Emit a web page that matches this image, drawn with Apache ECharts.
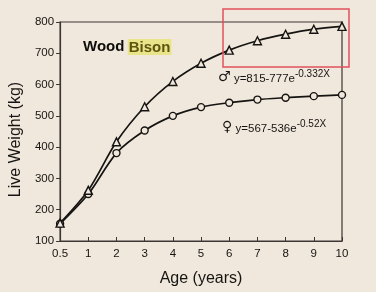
<!DOCTYPE html>
<html>
<head>
<meta charset="utf-8">
<script src="https://cdn.jsdelivr.net/npm/echarts@6/dist/echarts.min.js"></script>
<style>
  html, body { margin: 0; padding: 0; background: #f0e8dc; }
  #main { width: 376px; height: 292px; }
</style>
</head>
<body>
<div id="main"></div>
<script>
// 年龄（类目轴，等间距）
var ages = ['0.5', '1', '2', '3', '4', '5', '6', '7', '8', '9', '10'];
// 公牛 (三角)
var maleWeight = [157, 262, 417, 529, 610, 668, 710, 740, 761, 777, 786];
// 母牛 (圆圈)
var femaleWeight = [155, 250, 381, 453, 500, 528, 542, 552, 558, 563, 567];
var yTicks = { min: 100, max: 800, step: 100 };

var chartDom = document.getElementById('main');
var myChart = echarts.init(chartDom);
var font = 'Liberation Sans, Arial, sans-serif';
var ink = '#161412';
var paper = '#f0e8dc';

var option = {
  backgroundColor: paper,
  animation: false,
  grid: {
    left: 58,
    right: 34,
    top: 22,
    bottom: 46,
    show: true,
    borderColor: '#3a3633', // 边框
    borderWidth: 1.2
  },
  xAxis: {
    type: 'category',
    data: ages,
    boundaryGap: false, // 去除轴内间距
    name: 'Age (years)',
    nameLocation: 'middle',
    nameGap: 30,
    nameTextStyle: { color: ink, fontSize: 16, fontFamily: font },
    axisLine: { lineStyle: { color: '#3a3633', width: 1.2 } },
    axisTick: { inside: true, length: 4, lineStyle: { color: '#3a3633' } },
    axisLabel: { color: ink, fontSize: 11.5, fontFamily: font, margin: 7 },
    splitLine: { show: false }
  },
  yAxis: {
    type: 'value',
    min: yTicks.min,
    max: yTicks.max,
    interval: yTicks.step,
    name: 'Live Weight (kg)',
    nameLocation: 'middle',
    nameGap: 35,
    nameTextStyle: { color: ink, fontSize: 16, fontFamily: font, padding: [0, 16, 0, 0] },
    axisLine: { show: true, lineStyle: { color: '#3a3633', width: 1.2 } },
    axisTick: { show: true, length: 4, lineStyle: { color: '#3a3633' } },
    axisLabel: { color: ink, fontSize: 11.5, fontFamily: font, margin: 6 },
    splitLine: { show: false }
  },
  series: [
    {
      name: 'male',
      type: 'line',
      data: maleWeight,
      smooth: 0.3,
      symbol: 'triangle',
      symbolSize: 8,
      lineStyle: { color: ink, width: 1.7 },
      itemStyle: { color: paper, borderColor: ink, borderWidth: 1.4 },
      z: 3
    },
    {
      name: 'female',
      type: 'line',
      data: femaleWeight,
      smooth: 0.3,
      symbol: 'circle',
      symbolSize: 7,
      lineStyle: { color: ink, width: 1.7 },
      itemStyle: { color: paper, borderColor: ink, borderWidth: 1.4 },
      z: 2
    }
  ],
  graphic: [
    {
      type: 'text',
      left: 83,
      top: 39,
      style: {
        text: '{a|Wood} {b|Bison}',
        rich: {
          a: { fontSize: 15, fontWeight: 'bold', fill: '#0e0c0a', fontFamily: font },
          b: { fontSize: 15, fontWeight: 'bold', fill: '#5e5410', fontFamily: font,
               backgroundColor: '#e9e48a', padding: [1, 1, 0, 1] }
        }
      }
    },
    {
      type: 'text',
      left: 218,
      top: 69,
      style: {
        text: '{s|♂} {t|y=815-777e}{u|-0.332X}',
        rich: {
          s: { fontSize: 14, fill: ink, fontFamily: 'DejaVu Sans' },
          t: { fontSize: 11.5, fill: ink, fontFamily: font, verticalAlign: 'bottom' },
          u: { fontSize: 10, fill: ink, fontFamily: font, verticalAlign: 'top', padding: [0, 0, 6, 0] }
        }
      }
    },
    {
      type: 'text',
      left: 222,
      top: 119,
      style: {
        text: '{s|♀} {t|y=567-536e}{u|-0.52X}',
        rich: {
          s: { fontSize: 14, fill: ink, fontFamily: 'DejaVu Sans' },
          t: { fontSize: 11.5, fill: ink, fontFamily: font, verticalAlign: 'bottom' },
          u: { fontSize: 10, fill: ink, fontFamily: font, verticalAlign: 'top', padding: [0, 0, 6, 0] }
        }
      }
    },
    {
      type: 'rect',
      shape: { x: 223, y: 9, width: 126, height: 58 },
      style: { fill: 'none', stroke: '#e0505c', lineWidth: 1.5 },
      z: 100
    }
  ]
};

option && myChart.setOption(option);
window.addEventListener('resize', function () {
  myChart.resize();
});
</script>
</body>
</html>
